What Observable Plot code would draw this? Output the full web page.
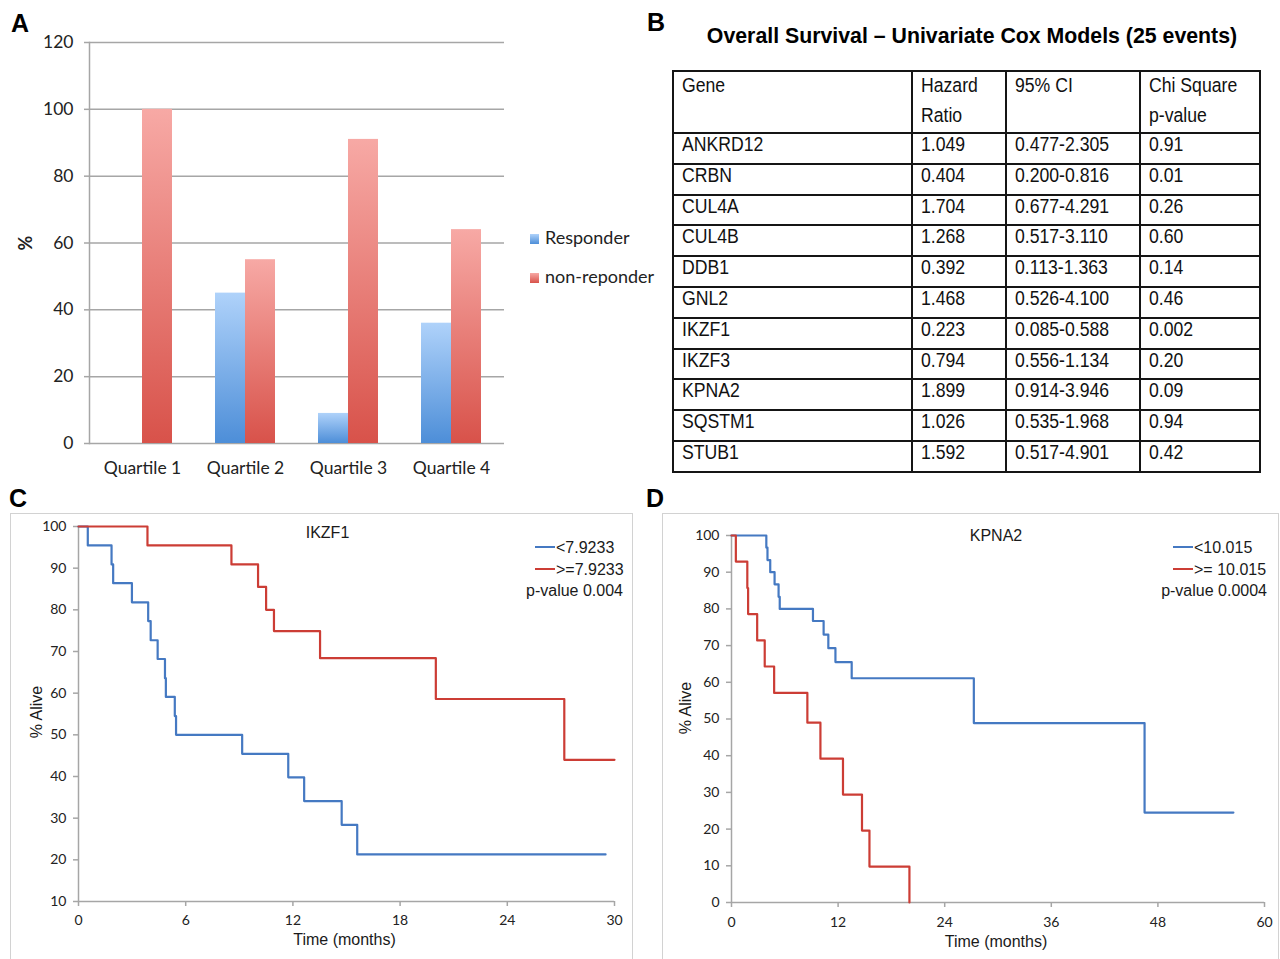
<!DOCTYPE html>
<html>
<head>
<meta charset="utf-8">
<script src="https://cdn.jsdelivr.net/npm/d3@7"></script>
<script src="https://cdn.jsdelivr.net/npm/@observablehq/plot@0.6"></script>
<style>
html, body { margin: 0; padding: 0; background: #fff; }
#root { position: relative; width: 1280px; height: 959px; overflow: hidden; font-family: "Liberation Sans", Arial, sans-serif; color: #111; }
.letter { position: absolute; font: bold 25px "Liberation Sans", Arial, sans-serif; line-height: 26px; color: #000; }
.legA { position: absolute; font: 18px Lato, "Open Sans", sans-serif; line-height: 20px; color: #222; white-space: nowrap; }
.sq { display: inline-block; width: 9px; height: 10px; margin-right: 6px; vertical-align: 0px; }
.box { position: absolute; border: 1.5px solid #d2d2d2; box-sizing: border-box; }
.legKM { position: absolute; font: 16px "Liberation Sans", Arial, sans-serif; line-height: 21.5px; color: #1a1a1a; white-space: nowrap; }
.ln { display: inline-block; width: 20px; height: 0; border-top: 2.2px solid; vertical-align: 5px; margin-right: 1px; }
#titleB { position: absolute; left: 672px; top: 24px; width: 600px; text-align: center; font: bold 21.3px "Liberation Sans", Arial, sans-serif; line-height: 24px; color: #000; white-space: nowrap; }
table.cox { position: absolute; left: 672px; top: 70px; width: 587px; border-collapse: collapse; table-layout: fixed; font: 20.5px "Liberation Sans", Arial, sans-serif; color: #111; }
table.cox td { border: 2px solid #151515; padding: 0 0 0 8px; vertical-align: top; line-height: 24px; overflow: visible; white-space: nowrap; }
table.cox tr.hdr td { line-height: 30px; padding-top: 0px; }
table.cox span { display: inline-block; transform: scaleX(0.86); transform-origin: 0 50%; position: relative; top: -2px; }
</style>
</head>
<body>
<div id="root"></div>
<script>
// ---------- Panel A data ----------
const quartiles = ["Quartile 1", "Quartile 2", "Quartile 3", "Quartile 4"];
const seriesA = ["Responder", "non-reponder"];
const responderPct = [0, 45, 9, 36];
const nonResponderPct = [100, 55, 91, 64];
const yTicksA = [0, 20, 40, 60, 80, 100, 120];

// ---------- Panel B data ----------
const tableTitle = "Overall Survival – Univariate Cox Models (25 events)";
const tableHeader = [["Gene"], ["Hazard", "Ratio"], ["95% CI"], ["Chi Square", "p-value"]];
const genes = ["ANKRD12", "CRBN", "CUL4A", "CUL4B", "DDB1", "GNL2", "IKZF1", "IKZF3", "KPNA2", "SQSTM1", "STUB1"];
const hazardRatio = ["1.049", "0.404", "1.704", "1.268", "0.392", "1.468", "0.223", "0.794", "1.899", "1.026", "1.592"];
const ci95 = ["0.477-2.305", "0.200-0.816", "0.677-4.291", "0.517-3.110", "0.113-1.363", "0.526-4.100", "0.085-0.588", "0.556-1.134", "0.914-3.946", "0.535-1.968", "0.517-4.901"];
const chiP = ["0.91", "0.01", "0.26", "0.60", "0.14", "0.46", "0.002", "0.20", "0.09", "0.94", "0.42"];

// ---------- Panel C data (IKZF1) ----------
const ikzf1LowTime = [0, 0.52, 1.85, 1.94, 2.99, 3.9, 4.04, 4.43, 4.84, 4.89, 5.39, 5.46, 9.16, 11.74, 12.63, 14.73, 15.6, 29.5];
const ikzf1LowSurv = [100, 95.45, 90.9, 86.4, 81.8, 77.3, 72.7, 68.2, 63.6, 59.1, 54.5, 50, 45.45, 39.8, 34.1, 28.4, 21.3, 21.3];
const ikzf1HighTime = [0, 3.86, 8.56, 10.05, 10.5, 10.94, 13.52, 20.0, 27.19, 30];
const ikzf1HighSurv = [100, 95.45, 90.9, 85.5, 80, 74.9, 68.4, 58.6, 44.0, 44.0];
const ikzf1Labels = ["<7.9233", ">=7.9233"];
const ikzf1P = "p-value 0.004";
const xTicksC = [0, 6, 12, 18, 24, 30];
const yTicksC = [10, 20, 30, 40, 50, 60, 70, 80, 90, 100];

// ---------- Panel D data (KPNA2) ----------
const kpna2LowTime = [0, 3.92, 4.05, 4.36, 4.85, 5.3, 5.43, 9.17, 10.37, 10.9, 11.7, 13.53, 27.28, 46.5, 56.5];
const kpna2LowSurv = [100, 96.7, 93.3, 90, 86.7, 83.3, 80, 76.7, 73.0, 69.3, 65.5, 61.1, 48.9, 24.5, 24.5];
const kpna2HighTime = [0, 0.49, 1.78, 1.87, 2.89, 3.74, 4.8, 8.54, 10.01, 12.55, 14.69, 15.53, 20.03];
const kpna2HighSurv = [100, 92.9, 85.7, 78.6, 71.4, 64.3, 57.1, 49.0, 39.2, 29.4, 19.6, 9.8, 0];
const kpna2Labels = ["<10.015", ">= 10.015"];
const kpna2P = "p-value 0.0004";
const xTicksD = [0, 12, 24, 36, 48, 60];
const yTicksD = [0, 10, 20, 30, 40, 50, 60, 70, 80, 90, 100];

// ---------- styles ----------
const BLUE = "#4579c2", RED = "#cc3d35", AXIS = "#a6a6a6";
const blueTop = "#afd2fa", blueBottom = "#4d8ed8";
const redTop = "#f7a9a5", redBottom = "#d8524a";
const ARIAL = "Liberation Sans, Arial, sans-serif";

const root = document.getElementById("root");
function place(node, left, top) {
  node.style.position = "absolute";
  node.style.left = left + "px";
  node.style.top = top + "px";
  root.appendChild(node);
  return node;
}
function html(s) { const d = document.createElement("div"); d.innerHTML = s; return d.firstElementChild; }

// Panel letters
[["A", 11, 10], ["B", 647, 9], ["C", 9, 485], ["D", 646, 485]].forEach(([t, l, tp]) => {
  const d = document.createElement("div"); d.className = "letter"; d.textContent = t;
  d.style.left = l + "px"; d.style.top = tp + "px"; root.appendChild(d);
});

// ---------- Panel A ----------
const barData = quartiles.flatMap((q, i) => [
  {q, s: seriesA[0], v: responderPct[i]},
  {q, s: seriesA[1], v: nonResponderPct[i]}
]);
const gradDefs = () => {
  const defs = d3.create("svg:defs");
  [["gBlue", blueTop, blueBottom], ["gRed", redTop, redBottom]].forEach(([id, a, b]) => {
    const g = defs.append("linearGradient").attr("id", id).attr("x1", 0).attr("y1", 0).attr("x2", 0).attr("y2", 1);
    g.append("stop").attr("offset", "0%").attr("stop-color", a);
    g.append("stop").attr("offset", "100%").attr("stop-color", b);
  });
  return defs.node();
};
const plotA = Plot.plot({
  width: 520, height: 490,
  marginLeft: 89, marginRight: 16, marginTop: 42, marginBottom: 47,
  style: {fontFamily: "Lato, 'Open Sans', sans-serif", fontSize: "17.5px", color: "#222", background: "transparent", overflow: "visible"},
  x: {domain: quartiles, paddingInner: 0.711, paddingOuter: 0.3555, label: null},
  y: {domain: [0, 120], label: null},
  marks: [
    gradDefs,
    Plot.gridY(yTicksA, {stroke: AXIS, strokeOpacity: 1, strokeWidth: 1.5}),
    Plot.axisY(yTicksA, {tickSize: 5, tickPadding: 11, stroke: AXIS, strokeWidth: 1.5, label: null, fontSize: 17.5}),
    Plot.axisX({tickSize: 0, tickPadding: 18, label: null, fontSize: 17.5}),
    Plot.frame({anchor: "left", stroke: AXIS, strokeWidth: 1.5}),
    Plot.barY(barData.filter(d => d.s === seriesA[0]), {x: "q", y: "v", dx: -15, fill: "url(#gBlue)"}),
    Plot.barY(barData.filter(d => d.s === seriesA[1]), {x: "q", y: "v", dx: 15, fill: "url(#gRed)"}),
    Plot.text(["%"], {frameAnchor: "left", textAnchor: "middle", lineAnchor: "middle", dx: -63, rotate: -90, fontWeight: "bold", fontSize: 18})
  ]
});
place(plotA, 0, 0);
place(html(`<div class="legA"><span class="sq" style="background:linear-gradient(${blueTop},${blueBottom})"></span>${seriesA[0]}</div>`), 530, 227);
place(html(`<div class="legA"><span class="sq" style="background:linear-gradient(${redTop},${redBottom})"></span>${seriesA[1]}</div>`), 530, 266);

// ---------- Panel B ----------
const tB = document.createElement("div"); tB.id = "titleB"; tB.textContent = tableTitle; root.appendChild(tB);
const table = document.createElement("table"); table.className = "cox";
const colW = [239, 94, 134, 120];
const cg = document.createElement("colgroup");
colW.forEach(w => { const c = document.createElement("col"); c.style.width = w + "px"; cg.appendChild(c); });
table.appendChild(cg);
const hr = document.createElement("tr"); hr.className = "hdr"; hr.style.height = "61px";
tableHeader.forEach(lines => {
  const td = document.createElement("td");
  td.innerHTML = lines.map(l => `<span>${l}</span>`).join("<br>");
  hr.appendChild(td);
});
table.appendChild(hr);
genes.forEach((g, i) => {
  const tr = document.createElement("tr"); tr.style.height = "30.8px";
  [g, hazardRatio[i], ci95[i], chiP[i]].forEach(v => {
    const td = document.createElement("td"); td.innerHTML = `<span>${v}</span>`; tr.appendChild(td);
  });
  table.appendChild(tr);
});
root.appendChild(table);

// ---------- KM helper ----------
function km(times, surv) { return times.map((t, i) => ({t, s: surv[i]})); }
const kmStyle = {fontFamily: "Lato, 'Open Sans', sans-serif", fontSize: "14px", color: "#222", background: "transparent", overflow: "visible"};
const txt = {fontFamily: ARIAL, fontSize: 16, fill: "#1a1a1a", lineAnchor: "middle", textAnchor: "middle"};

// ---------- Panel C ----------
place(html(`<div class="box" style="width:623px;height:470px"></div>`), 10, 513);
const plotC = Plot.plot({
  width: 622, height: 446,
  marginLeft: 68, marginRight: 18, marginTop: 13, marginBottom: 58,
  style: kmStyle,
  x: {domain: [0, 30], label: null},
  y: {domain: [10, 100], label: null},
  marks: [
    Plot.ruleX([0], {stroke: AXIS, strokeWidth: 1.5}),
    Plot.ruleY([10], {stroke: AXIS, strokeWidth: 1.5}),
    Plot.axisY(yTicksC, {tickSize: 5, tickPadding: 7, stroke: AXIS, strokeWidth: 1.5, label: null, fontSize: 14}),
    Plot.axisX(xTicksC, {tickSize: 5, tickPadding: 9, stroke: AXIS, strokeWidth: 1.5, label: null, fontSize: 14}),
    Plot.line(km(ikzf1LowTime, ikzf1LowSurv), {x: "t", y: "s", curve: "step-after", stroke: BLUE, strokeWidth: 2.2}),
    Plot.line(km(ikzf1HighTime, ikzf1HighSurv), {x: "t", y: "s", curve: "step-after", stroke: RED, strokeWidth: 2.2}),
    Plot.text(["Time (months)"], {...txt, frameAnchor: "bottom", dx: -2, dy: 38}),
    Plot.text(["% Alive"], {...txt, frameAnchor: "left", dx: -42, dy: -2, rotate: -90}),
    Plot.text(["IKZF1"], {...txt, frameAnchor: "top", dx: -19, dy: 6})
  ]
});
place(plotC, 10, 513);
place(html(`<div class="legKM"><div><span class="ln" style="border-color:${BLUE}"></span>${ikzf1Labels[0].replace("<", "&lt;")}</div><div><span class="ln" style="border-color:${RED}"></span>${ikzf1Labels[1].replace(">", "&gt;")}</div></div>`), 535, 537);
const pC = place(html(`<div class="legKM">${ikzf1P}</div>`), 0, 580); pC.style.left = ""; pC.style.right = (1280 - 623) + "px";

// ---------- Panel D ----------
place(html(`<div class="box" style="width:617px;height:470px"></div>`), 662, 513);
const plotD = Plot.plot({
  width: 616, height: 446,
  marginLeft: 69, marginRight: 14, marginTop: 22, marginBottom: 57,
  style: kmStyle,
  x: {domain: [0, 60], label: null},
  y: {domain: [0, 100], label: null},
  marks: [
    Plot.ruleX([0], {stroke: AXIS, strokeWidth: 1.5}),
    Plot.ruleY([0], {stroke: AXIS, strokeWidth: 1.5}),
    Plot.axisY(yTicksD, {tickSize: 5, tickPadding: 7, stroke: AXIS, strokeWidth: 1.5, label: null, fontSize: 14}),
    Plot.axisX(xTicksD, {tickSize: 5, tickPadding: 10, stroke: AXIS, strokeWidth: 1.5, label: null, fontSize: 14}),
    Plot.line(km(kpna2LowTime, kpna2LowSurv), {x: "t", y: "s", curve: "step-after", stroke: BLUE, strokeWidth: 2.2}),
    Plot.line(km(kpna2HighTime, kpna2HighSurv), {x: "t", y: "s", curve: "step-after", stroke: RED, strokeWidth: 2.2}),
    Plot.text(["Time (months)"], {...txt, frameAnchor: "bottom", dx: -2, dy: 39}),
    Plot.text(["% Alive"], {...txt, frameAnchor: "left", dx: -46, dy: -11, rotate: -90}),
    Plot.text(["KPNA2"], {...txt, frameAnchor: "top", dx: -2, dy: 0})
  ]
});
place(plotD, 662, 513);
place(html(`<div class="legKM"><div><span class="ln" style="border-color:${BLUE}"></span>${kpna2Labels[0].replace("<", "&lt;")}</div><div><span class="ln" style="border-color:${RED}"></span>${kpna2Labels[1].replace(">", "&gt;")}</div></div>`), 1173, 537);
const pD = place(html(`<div class="legKM">${kpna2P}</div>`), 0, 580); pD.style.left = ""; pD.style.right = (1280 - 1267) + "px";
</script>
</body>
</html>
